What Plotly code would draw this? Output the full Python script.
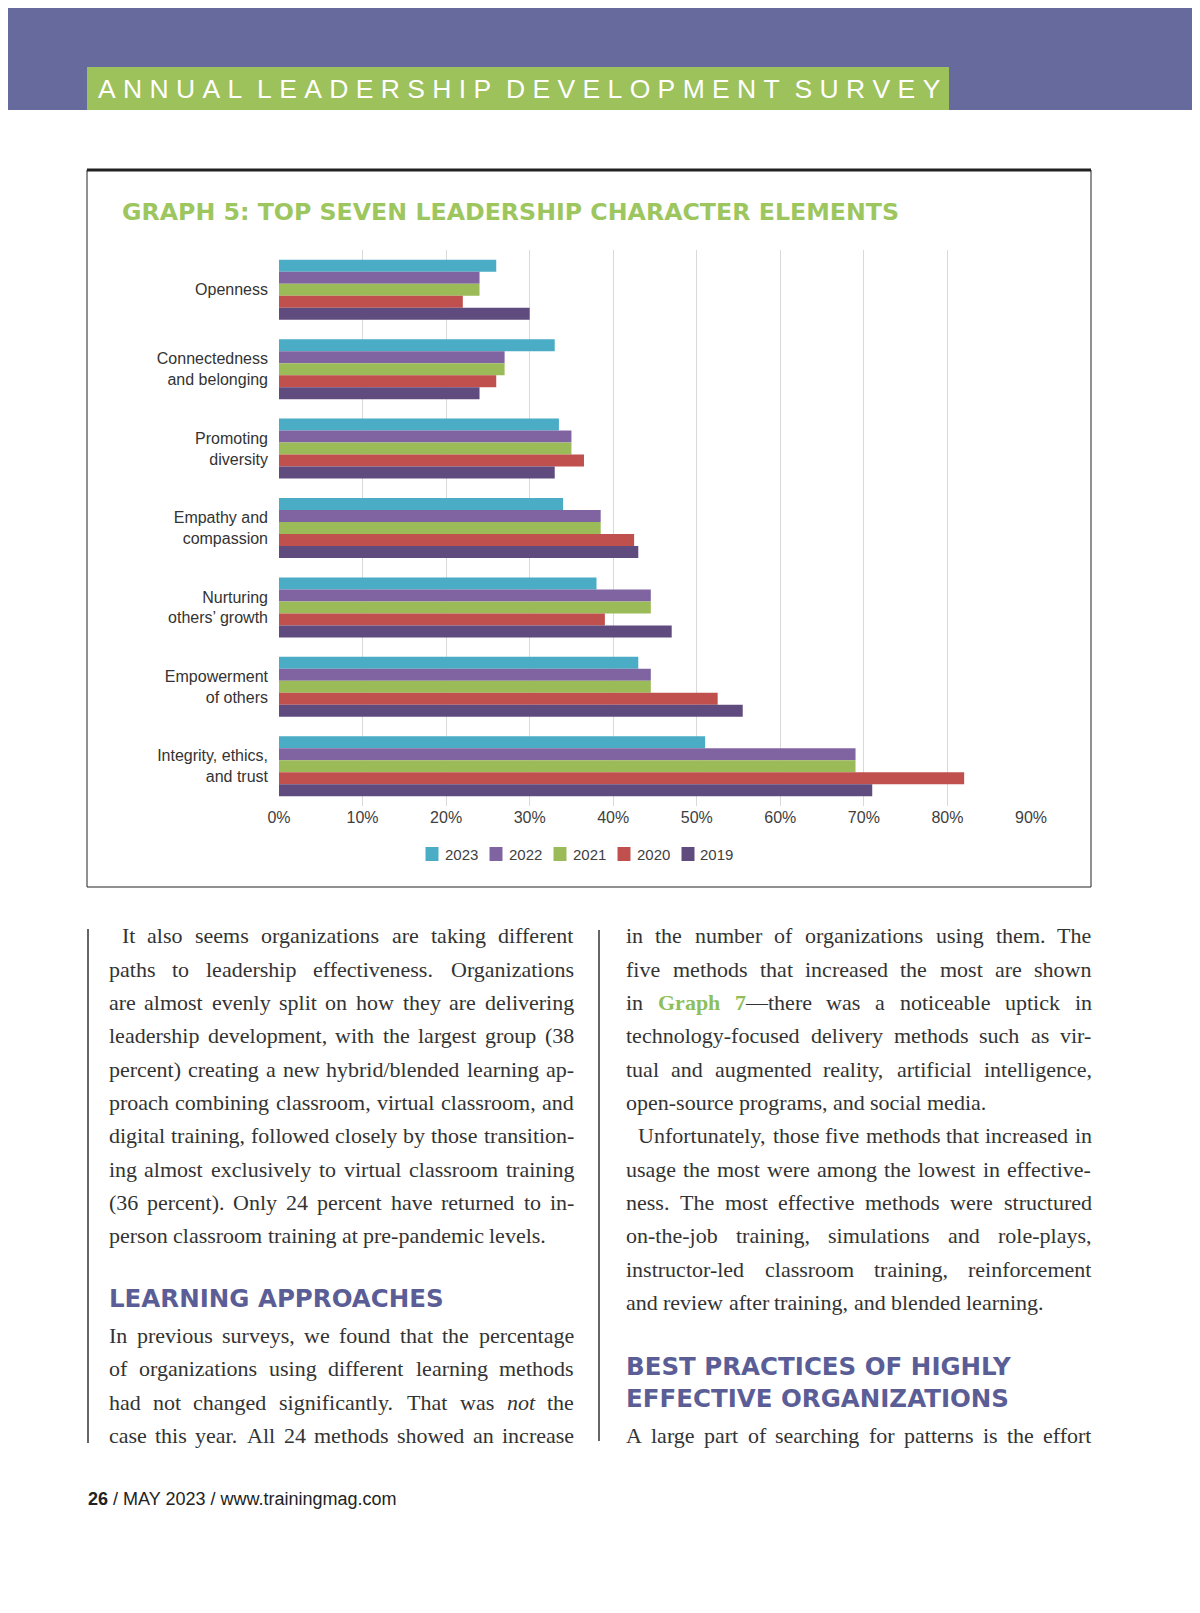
import re
import plotly.graph_objects as go

# page is 1200x1613; the browser body has an 8px margin at the top-left
OFF = 8
FW, FH = 1192, 1605


def px(x):
    return (x - OFF) / FW


def py(y):
    return 1 - (y - OFF) / FH


# ---------------- data ----------------
categories = ["Openness", "Connectedness<br>and belonging", "Promoting<br>diversity",
              "Empathy and<br>compassion", "Nurturing<br>others’ growth",
              "Empowerment<br>of others", "Integrity, ethics,<br>and trust"]
years = ["2023", "2022", "2021", "2020", "2019"]
v2023 = [0.26, 0.33, 0.335, 0.34, 0.38, 0.43, 0.51]
v2022 = [0.24, 0.27, 0.35, 0.385, 0.445, 0.445, 0.69]
v2021 = [0.24, 0.27, 0.35, 0.385, 0.445, 0.445, 0.69]
v2020 = [0.22, 0.26, 0.365, 0.425, 0.39, 0.525, 0.82]
v2019 = [0.30, 0.24, 0.33, 0.43, 0.47, 0.555, 0.71]
series_values = [v2023, v2022, v2021, v2020, v2019]
colors = ["#4bacc6", "#8064a2", "#9bbb59", "#c0504d", "#5f4b7d"]
x_ticks = [0, 0.1, 0.2, 0.3, 0.4, 0.5, 0.6, 0.7, 0.8, 0.9]

fig = go.Figure()
for yr, vals, col in zip(years, series_values, colors):
    fig.add_trace(go.Bar(y=categories, x=vals, name=yr, orientation="h",
                         marker=dict(color=col, line=dict(width=0)), showlegend=False))

fig.update_layout(
    width=FW, height=FH, autosize=False,
    margin=dict(l=0, r=0, t=0, b=0, pad=0, autoexpand=False),
    paper_bgcolor="white", plot_bgcolor="white",
    barmode="group", bargap=0.245, bargroupgap=0,
    xaxis=dict(domain=[px(279), px(1031)], range=[0, 0.9], tickvals=x_ticks,
               tickformat=".0%", showgrid=True, gridcolor="#d9d9d9", gridwidth=1,
               zeroline=False, showline=False, ticks="", automargin=False,
               tickfont=dict(family="Liberation Sans", size=16, color="#404040")),
    yaxis=dict(domain=[py(806), py(250)], autorange="reversed", type="category",
               showgrid=False, zeroline=False, showline=False, ticks="",
               ticklabelstandoff=10, automargin=False,
               tickfont=dict(family="Liberation Sans", size=16, color="#333333")),
)

shapes = []
ann = []

# header band
shapes.append(dict(type="rect", xref="paper", yref="paper", x0=px(0), x1=px(1200),
                   y0=py(110), y1=py(0), fillcolor="#666a9c", line=dict(width=0),
                   layer="below"))
shapes.append(dict(type="rect", xref="paper", yref="paper", x0=px(87), x1=px(949),
                   y0=py(110), y1=py(67), fillcolor="#9dc15b", line=dict(width=0),
                   layer="below"))
hdr = "\u00a0\u00a0".join("\u00a0".join(list(w)) for w in
                          ["ANNUAL", "LEADERSHIP", "DEVELOPMENT", "SURVEY"])
ann.append(dict(text=hdr, x=px(98), y=py(89), xref="paper", yref="paper", xanchor="left",
                yanchor="middle", showarrow=False, borderpad=0, borderwidth=0,
                font=dict(family="Liberation Sans", size=26.5, color="white")))

# chart box
shapes.append(dict(type="rect", xref="paper", yref="paper", x0=px(87), x1=px(1091),
                   y0=py(887), y1=py(170), line=dict(color="#222222", width=1)))
shapes.append(dict(type="line", xref="paper", yref="paper", x0=px(87), x1=px(1091),
                   y0=py(170), y1=py(170), line=dict(color="#222222", width=3)))
ann.append(dict(text="<b>GRAPH 5: TOP SEVEN LEADERSHIP CHARACTER ELEMENTS</b>", x=px(122),
                y=py(212), xref="paper", yref="paper", xanchor="left", yanchor="middle",
                showarrow=False, borderpad=0, borderwidth=0,
                font=dict(family="DejaVu Sans", size=23.7, color="#9dc65f")))

# manual legend
for k, (yr, col) in enumerate(zip(years, colors)):
    x0 = 425.5 + k * 64
    shapes.append(dict(type="rect", xref="paper", yref="paper", x0=px(x0), x1=px(x0 + 13),
                       y0=py(861), y1=py(847), fillcolor=col, line=dict(width=0)))
    ann.append(dict(text=yr, x=px(x0 + 19), y=py(854), xref="paper", yref="paper",
                    xanchor="left", yanchor="middle", showarrow=False, borderpad=0,
                    borderwidth=0,
                    font=dict(family="Liberation Sans", size=15, color="#404040")))

# column rules
shapes.append(dict(type="line", xref="paper", yref="paper", x0=px(88), x1=px(88),
                   y0=py(929), y1=py(1443), line=dict(color="#333333", width=1.5)))
shapes.append(dict(type="line", xref="paper", yref="paper", x0=px(599), x1=px(599),
                   y0=py(930), y1=py(1441), line=dict(color="#333333", width=1.5)))

# ---------------- body text (justified word by word) ----------------
TR = {' ': 250, '!': 333, '"': 408, '%': 833, '&': 778, "'": 333, '’': 333, '(': 333,
      ')': 333, ',': 250, '-': 333, '.': 250, '/': 278, ':': 278, ';': 278, '?': 444,
      'A': 722, 'B': 667, 'C': 667, 'D': 722, 'E': 611, 'F': 556, 'G': 722, 'H': 722,
      'I': 333, 'J': 389, 'K': 722, 'L': 611, 'M': 889, 'N': 722, 'O': 722, 'P': 556,
      'Q': 722, 'R': 667, 'S': 556, 'T': 611, 'U': 722, 'V': 722, 'W': 944, 'X': 722,
      'Y': 722, 'Z': 611, 'a': 444, 'b': 500, 'c': 444, 'd': 500, 'e': 444, 'f': 333,
      'g': 500, 'h': 500, 'i': 278, 'j': 278, 'k': 500, 'l': 278, 'm': 778, 'n': 500,
      'o': 500, 'p': 500, 'q': 500, 'r': 333, 's': 389, 't': 278, 'u': 500, 'v': 500,
      'w': 722, 'x': 500, 'y': 500, 'z': 444, '—': 1000}
TB = {'G': 778, 'r': 444, 'a': 500, 'p': 556, 'h': 556, '7': 500}
FS = 22
TXT = "#333333"
GREEN = "#8fbf5a"


def wdt(s, table):
    return sum(table.get(c, 500) for c in s) / 1000 * FS


def parse_word(w):
    html, width = "", 0.0
    for seg in re.split(r'(\*[^*]+\*|\[[^\]]+\])', w):
        if not seg:
            continue
        if seg.startswith('*'):
            html += "<i>%s</i>" % seg[1:-1]
            width += wdt(seg[1:-1], TR)
        elif seg.startswith('['):
            html += "<b><span style='color:%s'>%s</span></b>" % (GREEN, seg[1:-1])
            width += wdt(seg[1:-1], TB)
        else:
            html += seg
            width += wdt(seg, TR)
    return html, width


LH = 33.33
Y0 = 935.7
C1 = (108.7, 574.0)
C2 = (626.0, 1091.7)
# (column, line index, text, justified?, indent)
body = [
    (C1, 0, "It also seems organizations are taking different", True, 13),
    (C1, 1, "paths to leadership effectiveness. Organizations", True, 0),
    (C1, 2, "are almost evenly split on how they are delivering", True, 0),
    (C1, 3, "leadership development, with the largest group (38", True, 0),
    (C1, 4, "percent) creating a new hybrid/blended learning ap-", True, 0),
    (C1, 5, "proach combining classroom, virtual classroom, and", True, 0),
    (C1, 6, "digital training, followed closely by those transition-", True, 0),
    (C1, 7, "ing almost exclusively to virtual classroom training", True, 0),
    (C1, 8, "(36 percent). Only 24 percent have returned to in-", True, 0),
    (C1, 9, "person classroom training at pre-pandemic levels.", False, 0),
    (C1, 12, "In previous surveys, we found that the percentage", True, 0),
    (C1, 13, "of organizations using different learning methods", True, 0),
    (C1, 14, "had not changed significantly. That was *not* the", True, 0),
    (C1, 15, "case this year. All 24 methods showed an increase", True, 0),
    (C2, 0, "in the number of organizations using them. The", True, 0),
    (C2, 1, "five methods that increased the most are shown", True, 0),
    (C2, 2, "in [Graph] [7]—there was a noticeable uptick in", True, 0),
    (C2, 3, "technology-focused delivery methods such as vir-", True, 0),
    (C2, 4, "tual and augmented reality, artificial intelligence,", True, 0),
    (C2, 5, "open-source programs, and social media.", False, 0),
    (C2, 6, "Unfortunately, those five methods that increased in", True, 12),
    (C2, 7, "usage the most were among the lowest in effective-", True, 0),
    (C2, 8, "ness. The most effective methods were structured", True, 0),
    (C2, 9, "on-the-job training, simulations and role-plays,", True, 0),
    (C2, 10, "instructor-led classroom training, reinforcement", True, 0),
    (C2, 11, "and review after training, and blended learning.", False, 0),
    (C2, 15, "A large part of searching for patterns is the effort", True, 0),
]

for (left, right), li, text, just, indent in body:
    y = Y0 + li * LH
    words = [parse_word(w) for w in text.split(" ")]
    x_start = left + indent
    total = sum(w for _, w in words)
    if just and len(words) > 1:
        gap = (right - x_start - total) / (len(words) - 1)
    else:
        gap = TR[' '] / 1000 * FS
    x = x_start
    for html, w in words:
        ann.append(dict(text=html, x=px(x), y=py(y), xref="paper", yref="paper",
                        xanchor="left", yanchor="middle", showarrow=False,
                        borderpad=0, borderwidth=0,
                        font=dict(family="Liberation Serif", size=FS, color=TXT)))
        x += w + gap

# headings
HEAD = "#5b5e96"
for txt, x, y in [("LEARNING APPROACHES", 108.7, 1298),
                  ("BEST PRACTICES OF HIGHLY", 626, 1366),
                  ("EFFECTIVE ORGANIZATIONS", 626, 1398)]:
    ann.append(dict(text="<b>%s</b>" % txt, x=px(x), y=py(y), xref="paper", yref="paper",
                    xanchor="left", yanchor="middle", showarrow=False, borderpad=0,
                    borderwidth=0, font=dict(family="DejaVu Sans", size=24.5, color=HEAD)))

# footer
ann.append(dict(text="<b>26</b> / MAY 2023 / www.trainingmag.com", x=px(88), y=py(1499),
                xref="paper", yref="paper", xanchor="left", yanchor="middle",
                showarrow=False, borderpad=0, borderwidth=0,
                font=dict(family="Liberation Sans", size=18, color="#222222")))

fig.update_layout(shapes=shapes, annotations=ann)
fig.write_html("out.html")
